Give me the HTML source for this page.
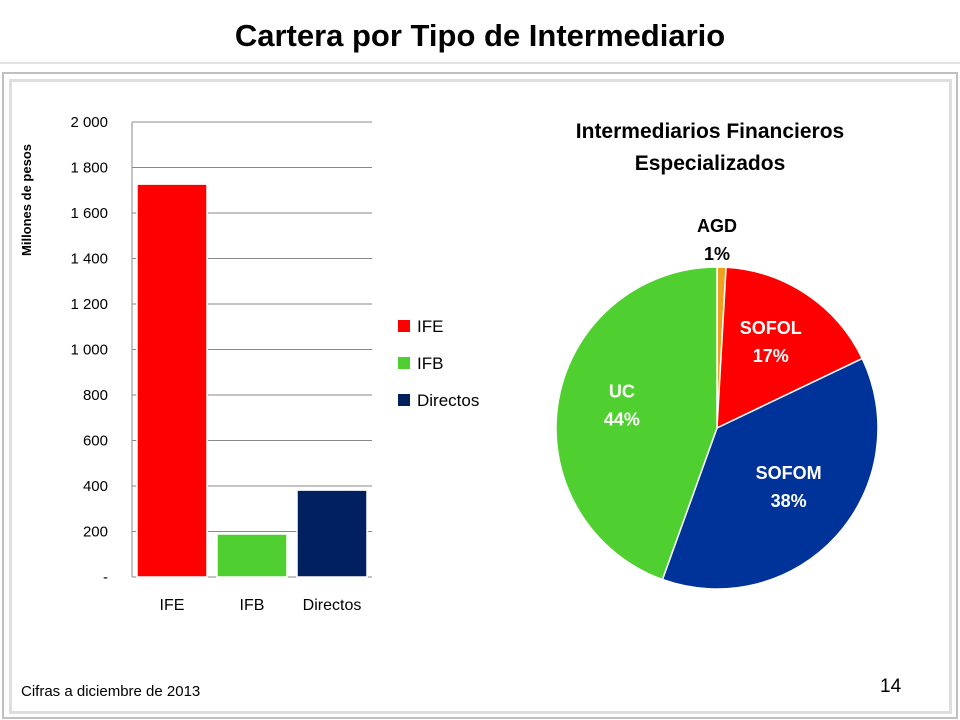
<!DOCTYPE html>
<html><head><meta charset="utf-8"><style>
body{margin:0;width:960px;height:720px;background:#fff;font-family:"Liberation Sans",Arial,sans-serif;overflow:hidden;position:relative}
.t{position:absolute;white-space:nowrap}
</style></head><body>
<div class="t" style="left:0;width:960px;text-align:center;top:18px;font-size:31px;font-weight:bold;color:#000">Cartera por Tipo de Intermediario</div>
<div style="position:absolute;left:0;top:62px;width:960px;height:2px;background:#e4e4e4"></div>
<div style="position:absolute;left:2px;top:72px;width:952px;height:643px;border:2px solid #c0c0c0"></div>
<div style="position:absolute;left:9px;top:79px;width:937px;height:629px;border:3px solid #dedede"></div>
<svg width="960" height="720" style="position:absolute;left:0;top:0">
<g id="bar"></g><g id="pie"></g>
</svg>
<div class="t" style="left:21px;top:683px;font-size:15px">Cifras a diciembre de 2013</div>
<div class="t" style="left:880px;top:676px;font-size:19px">14</div>
<script>
const barCats=["IFE","IFB","Directos"];
const barVals=[1727,189,382];
const barColors=["#ff0000","#50d030","#002060"];
const yTicks=[0,200,400,600,800,1000,1200,1400,1600,1800,2000];
const yTickLabels=["-","200","400","600","800","1 000","1 200","1 400","1 600","1 800","2 000"];
const pieCats=["AGD","SOFOL","SOFOM","UC"];
const pieVals=[0.9,17.0,37.6,44.5];
const pieLabels=["1%","17%","38%","44%"];
const pieColors=["#f0a020","#ff0000","#003399","#50d030"];
const NS="http://www.w3.org/2000/svg";
function mk(p,tag,a){const e=document.createElementNS(NS,tag);for(const k in a)e.setAttribute(k,a[k]);p.appendChild(e);return e;}
const bar=document.getElementById('bar');
const x0=132,x1=372,yTop=122,yBot=577,yMax=2000;
const y=v=>yBot-(v/yMax)*(yBot-yTop);
const bw=(x1-x0)/barCats.length;
yTicks.forEach((t,i)=>{
 const l=mk(bar,'line',{x1:x0,x2:x1,y1:y(t),y2:y(t),stroke:'#888','stroke-width':1});
 
 
 const tx=mk(bar,'text',{x:108,y:y(t)+5,'text-anchor':'end','font-size':15,fill:'#000','font-family':'Liberation Sans'});
 tx.textContent=yTickLabels[i];
 
 
});
const ax=mk(bar,'line',{x1:x0,x2:x0,y1:yTop,y2:yBot,stroke:'#888'});


barCats.forEach((c,i)=>{
 const r=mk(bar,'rect',{x:x0+i*bw+5,y:y(barVals[i]),width:bw-10,height:yBot-y(barVals[i]),fill:barColors[i],stroke:'#fff','stroke-width':1.5});
 
 
 const t=mk(bar,'text',{x:x0+i*bw+bw/2,y:610,'text-anchor':'middle','font-size':16,'font-family':'Liberation Sans'});
 t.textContent=c;
 
 
 const ly=326+i*37;
 const sw=mk(bar,'rect',{x:398,y:ly-6,width:12,height:12,fill:barColors[i]});
 
 
 const lt=mk(bar,'text',{x:417,y:ly+6,'font-size':17,'font-family':'Liberation Sans'});
 lt.textContent=c;
 
 
});
const yt=mk(bar,'text',{transform:'translate(31,200) rotate(-90)','text-anchor':'middle','font-size':13,'font-weight':'bold','font-family':'Liberation Sans'});
yt.textContent='Millones de pesos';


const pie=document.getElementById('pie');
const cx=717,cy=428,R=161;
const pt=mk(pie,'text',{x:710,y:138,'text-anchor':'middle','font-size':21,'font-weight':'bold','font-family':'Liberation Sans'});
pt.textContent='Intermediarios Financieros';


const pt2=mk(pie,'text',{x:710,y:170,'text-anchor':'middle','font-size':21,'font-weight':'bold','font-family':'Liberation Sans'});
pt2.textContent='Especializados';


const tot=pieVals.reduce((a,b)=>a+b,0);
let acc=0;
const P=(f,r)=>[cx+r*Math.sin(f*2*Math.PI),cy-r*Math.cos(f*2*Math.PI)];
pieVals.forEach((v,i)=>{
 const f0=acc/tot,f1=(acc+v)/tot;acc+=v;
 const [ax0,ay0]=P(f0,R),[ax1,ay1]=P(f1,R);
 const s=mk(pie,'path',{d:`M${cx},${cy}L${ax0},${ay0}A${R},${R} 0 ${f1-f0>0.5?1:0} 1 ${ax1},${ay1}Z`,fill:pieColors[i],stroke:'#fff','stroke-width':1.5});
 
 
 const fm=(f0+f1)/2;
 let lx,ly,col;
 if(i===0){[lx]=P(fm,R);ly=232;col='#000';}
 else{[lx,ly]=P(fm,R*0.6);ly-=14;col='#fff';}
 if(i===0)lx=717;
 const t1=mk(pie,'text',{x:lx,y:ly,'text-anchor':'middle','font-size':18,'font-weight':'bold',fill:col,'font-family':'Liberation Sans'});
 t1.textContent=pieCats[i];
 
 
 const t2=mk(pie,'text',{x:lx,y:ly+28,'text-anchor':'middle','font-size':18,'font-weight':'bold',fill:col,'font-family':'Liberation Sans'});
 t2.textContent=pieLabels[i];
 
 
});
</script>
</body></html>
